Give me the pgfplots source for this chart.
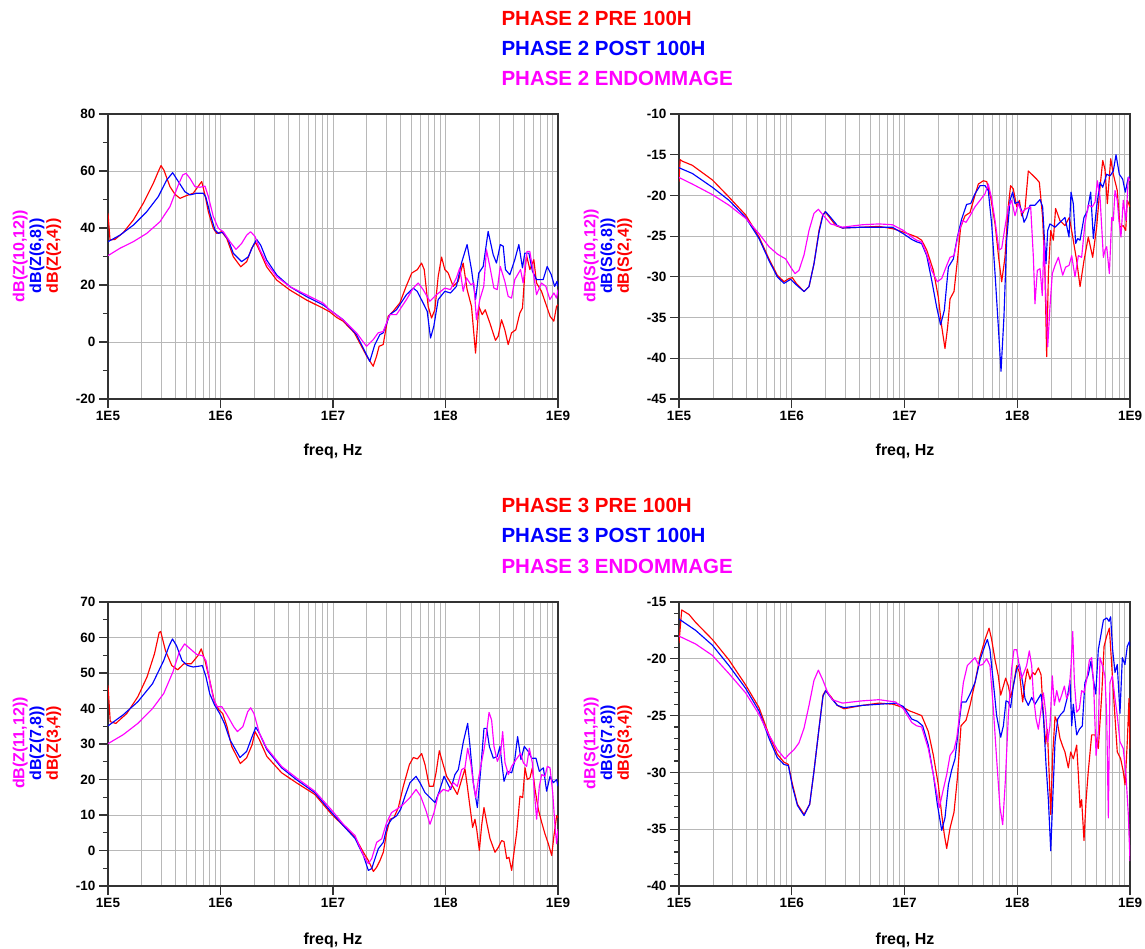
\documentclass[border=0pt]{standalone}
\usepackage{fontspec}
\setmainfont{Liberation Sans}
\usepackage{pgfplots}
\pgfplotsset{compat=1.18}

\definecolor{adsred}{RGB}{255,0,0}
\definecolor{adsblue}{RGB}{0,0,255}
\definecolor{adsmag}{RGB}{255,0,255}

\newcommand\tickf{\fontsize{13.5}{15}\selectfont\bfseries}
\newcommand\labf{\fontsize{16}{16.75}\selectfont\bfseries}
\newcommand\titf{\fontsize{20.5}{22}\selectfont\bfseries}

% x is log10(freq / Hz)
\pgfplotsset{
  adsaxis/.style={
    scale only axis, anchor=south west,
    xmin=5, xmax=9,
    xtick={5,6,7,8,9}, xticklabels={1E5,1E6,1E7,1E8,1E9},
    minor xtick={5.30103,5.47712,5.60206,5.69897,5.77815,5.84510,5.90309,5.95424,
                 6.30103,6.47712,6.60206,6.69897,6.77815,6.84510,6.90309,6.95424,
                 7.30103,7.47712,7.60206,7.69897,7.77815,7.84510,7.90309,7.95424,
                 8.30103,8.47712,8.60206,8.69897,8.77815,8.84510,8.90309,8.95424},
    xmajorgrids, xminorgrids, ymajorgrids,
    major grid style={black!28, line width=0.9pt},
    minor grid style={black!28, line width=0.9pt},
    minor tick length=0pt, major tick length=9pt, tick align=outside, tick pos=left,
    axis line style={black!80, line width=1.2pt},
    major tick style={black!80, line width=1.2pt},
    ticklabel style={font=\tickf},
    every axis plot/.append style={line width=1.15pt, line join=round, mark=none},
  },
  yminor/.style={
    scale only axis, anchor=south west, xmin=5, xmax=9,
    hide x axis, axis y line*=left, axis line style={draw=none},
    yticklabels={}, major tick length=5pt, tick align=outside,
    major tick style={black!80, line width=1.2pt},
  },
}

\begin{document}
\begin{tikzpicture}
\path[use as bounding box] (0,0) rectangle (1145pt,-949pt);

% ---------------- titles ----------------
\node[anchor=west, font=\titf, text=adsred]  at (498pt,-18pt) {PHASE 2 PRE 100H};
\node[anchor=west, font=\titf, text=adsblue] at (498pt,-48pt) {PHASE 2 POST 100H};
\node[anchor=west, font=\titf, text=adsmag]  at (498pt,-78pt) {PHASE 2 ENDOMMAGE};
\node[anchor=west, font=\titf, text=adsred]  at (498pt,-505pt) {PHASE 3 PRE 100H};
\node[anchor=west, font=\titf, text=adsblue] at (498pt,-535pt) {PHASE 3 POST 100H};
\node[anchor=west, font=\titf, text=adsmag]  at (498pt,-566pt) {PHASE 3 ENDOMMAGE};

% ---------------- top left: dB(Z) phase 2 ----------------
\begin{axis}[yminor, at={(108pt,-399pt)}, width=450pt, height=285pt,
  ymin=-20, ymax=80, ytick={-10,10,30,50,70}]
\end{axis}
\begin{axis}[adsaxis, at={(108pt,-399pt)}, width=450pt, height=285pt,
  ymin=-20, ymax=80, ytick={-20,0,20,40,60,80}, yticklabels={-20,0,20,40,60,80}]
\addplot[adsred] coordinates {
(5.000,45.1) (5.018,35.8) (5.062,36.0) (5.136,38.4) (5.225,42.8) (5.314,48.7) (5.403,55.7) (5.447,59.8)
(5.471,61.9) (5.497,60.3) (5.551,54.5) (5.596,51.8) (5.640,50.4) (5.693,51.3) (5.758,52.2) (5.803,54.7)
(5.833,56.3) (5.862,51.6) (5.892,45.7) (5.936,39.9) (5.966,38.1) (6.010,38.7) (6.055,36.4) (6.114,29.9)
(6.180,26.4) (6.233,28.2) (6.277,32.9) (6.313,34.9) (6.351,31.7) (6.410,26.4) (6.500,21.7) (6.618,18.2)
(6.766,14.7) (6.914,11.8) (6.970,10.6) (7.033,8.6) (7.090,7.3) (7.190,3.2) (7.300,-5.0) (7.357,-8.5)
(7.387,-5.0) (7.410,-1.5) (7.446,-0.9) (7.490,9.0) (7.535,10.8) (7.594,13.7) (7.650,19.5) (7.700,24.2)
(7.750,25.4) (7.787,27.7) (7.811,25.4) (7.846,12.5) (7.876,8.4) (7.905,11.3) (7.935,23.0) (7.965,29.8)
(7.994,25.4) (8.024,24.2) (8.068,19.5) (8.113,21.3) (8.157,27.7) (8.192,18.4) (8.231,12.5) (8.267,-3.9)
(8.296,12.5) (8.326,9.6) (8.353,11.3) (8.394,6.7) (8.444,0.6) (8.468,2.0) (8.498,7.8) (8.527,4.3)
(8.557,-0.9) (8.587,3.2) (8.625,4.3) (8.661,10.2) (8.684,11.9) (8.705,24.0) (8.720,30.5) (8.750,25.4)
(8.785,28.9) (8.809,20.7) (8.853,17.8) (8.930,9.0) (8.963,7.3) (8.987,12.5) (9.000,13.1)};
\addplot[adsblue] coordinates {
(5.000,35.2) (5.107,37.5) (5.225,41.0) (5.344,45.7) (5.447,51.0) (5.521,56.8) (5.575,59.4) (5.625,56.3)
(5.684,52.7) (5.729,51.6) (5.788,52.2) (5.847,52.2) (5.870,50.8) (5.907,45.1) (5.951,39.3) (5.981,38.1)
(6.019,38.5) (6.070,35.8) (6.114,31.1) (6.188,28.2) (6.247,29.9) (6.292,34.0) (6.321,36.0) (6.357,34.0)
(6.410,28.8) (6.500,23.5) (6.618,19.4) (6.766,15.9) (6.914,13.0) (6.970,11.3) (7.090,7.8) (7.209,2.6)
(7.283,-3.3) (7.327,-6.8) (7.372,-0.9) (7.417,2.6) (7.446,3.2) (7.505,9.6) (7.564,11.3) (7.653,16.6)
(7.713,18.9) (7.748,17.8) (7.801,13.7) (7.837,10.8) (7.867,1.4) (7.896,5.5) (7.935,14.9) (7.994,17.8)
(8.044,17.2) (8.097,19.5) (8.142,27.7) (8.192,34.2) (8.231,25.4) (8.267,14.9) (8.296,24.2) (8.335,26.5)
(8.379,38.8) (8.424,30.6) (8.453,27.7) (8.487,34.2) (8.513,33.6) (8.533,25.4) (8.572,23.6) (8.616,28.9)
(8.652,34.2) (8.684,26.0) (8.705,31.2) (8.741,31.2) (8.773,24.8) (8.809,21.9) (8.868,21.9) (8.904,26.5)
(8.940,23.6) (8.970,19.5) (8.991,21.3) (9.000,19.5)};
\addplot[adsmag] coordinates {
(5.000,30.3) (5.107,32.9) (5.225,35.2) (5.344,38.1) (5.462,42.2) (5.551,47.5) (5.625,55.1) (5.664,58.6)
(5.693,59.2) (5.729,57.4) (5.773,54.5) (5.818,54.3) (5.862,54.7) (5.892,51.0) (5.936,44.0) (5.981,39.9)
(6.025,38.7) (6.084,35.2) (6.138,32.5) (6.188,34.6) (6.233,37.5) (6.268,38.7) (6.307,37.0) (6.351,32.3)
(6.410,27.6) (6.500,22.9) (6.618,19.4) (6.766,16.5) (6.914,13.6) (6.970,11.3) (7.090,7.8) (7.209,3.2)
(7.298,-1.5) (7.357,0.8) (7.401,3.2) (7.446,3.7) (7.505,9.6) (7.564,9.6) (7.653,14.9) (7.713,18.9)
(7.757,20.7) (7.801,18.4) (7.861,14.3) (7.920,16.6) (7.994,18.9) (8.044,18.4) (8.097,22.5) (8.127,26.0)
(8.157,17.8) (8.187,22.5) (8.225,20.1) (8.252,20.7) (8.275,7.8) (8.305,14.9) (8.340,19.5) (8.364,32.4)
(8.394,26.5) (8.430,18.9) (8.460,18.4) (8.487,26.5) (8.527,21.3) (8.557,16.0) (8.587,15.4) (8.616,21.9)
(8.667,25.4) (8.690,20.7) (8.725,31.8) (8.749,31.8) (8.779,24.8) (8.809,16.6) (8.853,20.7) (8.892,19.5)
(8.928,14.9) (8.963,17.2) (8.987,15.4) (9.000,18.4)};
\end{axis}

% ---------------- top right: dB(S) phase 2 ----------------
\begin{axis}[adsaxis, at={(679pt,-399pt)}, width=451pt, height=285pt,
  ymin=-45, ymax=-10, ytick={-45,-40,...,-10}, yticklabels={-45,-40,-35,-30,-25,-20,-15,-10}]
\addplot[adsred] coordinates {
(5.000,-18.3) (5.010,-15.6) (5.030,-15.8) (5.118,-16.3) (5.296,-18.1) (5.443,-20.2) (5.591,-22.4) (5.710,-25.1)
(5.798,-27.8) (5.872,-29.8) (5.931,-30.6) (5.976,-30.2) (6.005,-30.1) (6.040,-30.8) (6.109,-31.8) (6.153,-31.2)
(6.197,-28.4) (6.242,-24.3) (6.271,-22.6) (6.295,-22.0) (6.330,-22.6) (6.390,-23.7) (6.449,-24.0) (6.626,-23.9)
(6.774,-23.8) (6.900,-24.1) (6.990,-24.5) (7.050,-24.8) (7.108,-25.1) (7.152,-25.5) (7.197,-26.7) (7.256,-29.2)
(7.300,-32.5) (7.330,-36.1) (7.359,-38.8) (7.383,-36.1) (7.404,-32.7) (7.439,-31.8) (7.469,-28.0) (7.498,-23.9)
(7.537,-22.5) (7.581,-22.1) (7.616,-20.4) (7.655,-18.6) (7.699,-18.2) (7.729,-18.3) (7.764,-20.2) (7.803,-23.5)
(7.838,-28.0) (7.862,-30.6) (7.891,-27.6) (7.920,-21.4) (7.941,-18.8) (7.965,-19.2) (7.995,-21.4) (8.019,-20.6)
(8.039,-22.5) (8.069,-21.6) (8.098,-17.0) (8.128,-17.4) (8.172,-18.0) (8.196,-18.4) (8.225,-22.7) (8.246,-29.6)
(8.261,-39.8) (8.276,-29.6) (8.297,-24.3) (8.320,-25.5) (8.340,-21.6) (8.379,-23.1) (8.423,-23.7) (8.462,-22.7)
(8.492,-25.1) (8.527,-28.0) (8.557,-31.2) (8.592,-28.0) (8.630,-25.1) (8.669,-27.6) (8.704,-23.9) (8.734,-19.0)
(8.758,-15.7) (8.778,-16.8) (8.799,-21.0) (8.829,-15.5) (8.852,-17.4) (8.887,-19.4) (8.911,-23.9) (8.940,-23.7)
(8.962,-24.3) (8.976,-20.6) (9.000,-21.4)};
\addplot[adsblue] coordinates {
(5.000,-16.6) (5.118,-17.3) (5.296,-19.0) (5.443,-20.6) (5.591,-22.7) (5.710,-25.3) (5.798,-28.0) (5.872,-30.0)
(5.931,-30.8) (5.990,-30.3) (6.050,-31.1) (6.109,-31.8) (6.153,-31.2) (6.197,-28.4) (6.242,-24.5) (6.277,-22.4)
(6.301,-22.0) (6.345,-22.7) (6.404,-23.7) (6.449,-24.0) (6.626,-23.9) (6.892,-23.9) (6.990,-24.7) (7.064,-25.4)
(7.108,-25.7) (7.152,-25.9) (7.197,-27.4) (7.241,-30.4) (7.285,-33.7) (7.320,-35.9) (7.353,-34.1) (7.389,-28.8)
(7.433,-27.8) (7.469,-25.1) (7.507,-22.9) (7.551,-21.1) (7.587,-21.0) (7.625,-19.8) (7.670,-18.8) (7.714,-18.8)
(7.743,-19.4) (7.773,-23.5) (7.803,-29.6) (7.832,-36.1) (7.856,-41.6) (7.882,-34.9) (7.906,-25.5) (7.936,-20.6)
(7.959,-19.6) (7.980,-21.0) (8.010,-20.8) (8.039,-21.9) (8.060,-23.3) (8.083,-22.7) (8.113,-21.2) (8.157,-21.2)
(8.202,-20.5) (8.225,-21.4) (8.240,-25.1) (8.255,-28.4) (8.270,-24.3) (8.290,-23.5) (8.335,-23.9) (8.379,-23.3)
(8.423,-22.7) (8.459,-25.1) (8.477,-19.6) (8.497,-21.0) (8.518,-25.9) (8.536,-25.3) (8.557,-25.5) (8.592,-22.7)
(8.622,-21.9) (8.651,-19.6) (8.675,-25.3) (8.704,-21.4) (8.734,-18.4) (8.758,-19.0) (8.793,-17.4) (8.823,-17.6)
(8.852,-17.0) (8.876,-15.0) (8.905,-17.4) (8.935,-18.0) (8.958,-19.6) (8.985,-17.8) (9.000,-17.7)};
\addplot[adsmag] coordinates {
(5.000,-17.8) (5.118,-18.6) (5.296,-19.9) (5.443,-21.2) (5.591,-22.8) (5.710,-24.7) (5.798,-26.3) (5.872,-27.2)
(5.946,-27.8) (5.990,-28.8) (6.029,-29.6) (6.064,-29.2) (6.109,-27.3) (6.153,-24.3) (6.197,-22.2) (6.236,-21.7)
(6.277,-22.4) (6.345,-23.5) (6.449,-23.9) (6.626,-23.6) (6.774,-23.5) (6.892,-23.6) (6.990,-24.3) (7.064,-25.1)
(7.108,-25.5) (7.152,-25.7) (7.197,-27.2) (7.241,-29.2) (7.291,-30.6) (7.330,-30.2) (7.374,-28.6) (7.404,-27.6)
(7.439,-27.4) (7.478,-24.7) (7.516,-23.1) (7.546,-23.3) (7.581,-22.5) (7.625,-21.4) (7.670,-20.6) (7.714,-19.8)
(7.743,-18.6) (7.773,-20.4) (7.803,-23.1) (7.838,-26.7) (7.862,-26.5) (7.891,-23.9) (7.921,-21.4) (7.950,-20.6)
(7.980,-22.5) (8.010,-21.0) (8.039,-22.1) (8.083,-21.6) (8.119,-21.4) (8.143,-27.6) (8.157,-33.3) (8.178,-29.2)
(8.202,-29.0) (8.222,-32.3) (8.237,-25.5) (8.252,-32.0) (8.270,-38.6) (8.290,-33.7) (8.311,-29.6) (8.335,-28.6)
(8.365,-27.6) (8.403,-29.8) (8.429,-28.8) (8.459,-28.6) (8.483,-27.4) (8.512,-30.0) (8.542,-27.4) (8.571,-27.6)
(8.600,-23.5) (8.630,-21.2) (8.666,-21.4) (8.690,-20.8) (8.711,-18.2) (8.734,-20.2) (8.764,-27.6) (8.778,-26.7)
(8.793,-26.3) (8.817,-29.6) (8.838,-22.7) (8.852,-23.1) (8.867,-19.4) (8.887,-20.6) (8.902,-23.1) (8.920,-25.1)
(8.940,-20.6) (8.964,-23.1) (8.985,-17.8) (9.000,-18.2)};
\end{axis}

% ---------------- bottom left: dB(Z) phase 3 ----------------
\begin{axis}[yminor, at={(108pt,-886pt)}, width=450pt, height=284pt,
  ymin=-10, ymax=70, ytick={-5,5,15,25,35,45,55,65}]
\end{axis}
\begin{axis}[adsaxis, at={(108pt,-886pt)}, width=450pt, height=284pt,
  ymin=-10, ymax=70, ytick={-10,0,...,70}, yticklabels={-10,0,10,20,30,40,50,60,70}]
\addplot[adsred] coordinates {
(5.000,46.5) (5.020,36.3) (5.069,35.8) (5.167,38.6) (5.265,43.3) (5.347,48.9) (5.413,55.4) (5.455,61.4)
(5.468,61.7) (5.511,56.3) (5.567,52.1) (5.619,50.9) (5.675,52.6) (5.740,52.6) (5.800,54.9) (5.829,56.8)
(5.862,53.5) (5.904,47.9) (5.947,41.9) (5.986,39.6) (6.019,38.6) (6.058,34.9) (6.100,29.3) (6.176,24.5)
(6.232,26.1) (6.281,29.8) (6.307,33.5) (6.346,31.2) (6.412,26.5) (6.543,21.9) (6.674,19.1) (6.838,15.8)
(6.985,10.3) (7.092,7.0) (7.196,3.7) (7.270,-0.5) (7.314,-2.8) (7.359,-5.9) (7.388,-4.7) (7.418,-2.8)
(7.447,-0.5) (7.477,5.1) (7.507,8.8) (7.542,9.3) (7.581,12.1) (7.625,18.1) (7.679,24.2) (7.714,26.2)
(7.750,25.8) (7.788,27.3) (7.818,24.2) (7.856,18.1) (7.892,18.1) (7.916,21.9) (7.945,28.1) (7.975,24.7)
(8.010,20.9) (8.055,18.6) (8.105,15.8) (8.144,20.0) (8.173,23.0) (8.194,18.1) (8.224,10.7) (8.241,6.5)
(8.262,8.8) (8.277,6.0) (8.301,0.0) (8.321,7.0) (8.342,12.1) (8.366,7.9) (8.396,3.3) (8.440,-0.5)
(8.470,0.9) (8.499,2.8) (8.520,2.5) (8.544,-2.3) (8.564,-1.9) (8.588,-5.6) (8.609,-0.5) (8.633,5.1)
(8.662,15.3) (8.686,14.9) (8.707,23.3) (8.727,20.0) (8.751,20.5) (8.772,23.3) (8.796,17.2) (8.825,11.6)
(8.855,7.9) (8.884,4.7) (8.914,1.9) (8.944,-1.4) (8.964,4.2) (8.988,9.8) (9.000,9.3)};
\addplot[adsblue] coordinates {
(5.000,35.1) (5.134,38.2) (5.265,41.9) (5.396,47.0) (5.495,53.5) (5.544,57.7) (5.573,59.6) (5.609,57.7)
(5.658,53.5) (5.708,52.1) (5.757,51.7) (5.806,51.9) (5.839,52.1) (5.871,48.9) (5.904,44.2) (5.947,41.0)
(5.993,38.6) (6.035,35.8) (6.084,31.2) (6.173,26.2) (6.232,27.9) (6.281,32.1) (6.314,34.7) (6.346,33.0)
(6.412,28.4) (6.543,23.3) (6.674,20.0) (6.838,16.3) (6.985,10.8) (7.092,7.0) (7.196,3.4) (7.270,-1.4)
(7.314,-5.6) (7.344,-5.1) (7.373,-2.3) (7.403,0.5) (7.447,2.3) (7.483,7.0) (7.521,8.8) (7.566,9.8)
(7.601,11.6) (7.640,15.3) (7.684,19.1) (7.738,20.9) (7.773,19.1) (7.818,16.3) (7.862,14.9) (7.907,13.5)
(7.945,16.7) (7.987,20.9) (8.016,19.1) (8.046,17.2) (8.084,21.4) (8.114,22.8) (8.159,30.7) (8.197,35.8)
(8.218,29.3) (8.247,19.1) (8.283,12.1) (8.313,22.8) (8.342,34.4) (8.366,34.4) (8.390,29.3) (8.425,26.0)
(8.460,26.5) (8.484,29.3) (8.499,25.1) (8.520,19.5) (8.550,22.3) (8.588,21.9) (8.612,24.7) (8.641,32.1)
(8.671,25.6) (8.700,29.3) (8.736,27.9) (8.766,26.0) (8.804,26.0) (8.834,22.3) (8.870,23.3) (8.899,16.7)
(8.929,20.9) (8.958,19.1) (8.988,20.0) (9.000,18.1)};
\addplot[adsmag] coordinates {
(5.000,30.1) (5.134,32.6) (5.265,35.8) (5.396,40.0) (5.495,44.2) (5.577,50.3) (5.632,55.8) (5.681,58.2)
(5.731,56.8) (5.790,55.2) (5.839,54.9) (5.871,53.5) (5.904,47.9) (5.937,42.8) (5.970,40.5) (6.012,40.5)
(6.058,38.2) (6.117,34.9) (6.150,33.5) (6.199,34.9) (6.242,39.1) (6.268,40.2) (6.297,38.6) (6.346,33.0)
(6.412,28.8) (6.543,23.7) (6.674,20.5) (6.838,16.7) (6.985,11.5) (7.092,7.4) (7.196,4.2) (7.270,-1.4)
(7.314,-3.7) (7.344,-2.3) (7.388,2.3) (7.433,3.3) (7.477,7.9) (7.521,10.7) (7.566,11.6) (7.625,13.0)
(7.684,14.9) (7.738,17.2) (7.779,15.3) (7.827,11.2) (7.862,7.4) (7.898,10.7) (7.936,15.8) (7.981,17.2)
(8.025,16.7) (8.070,19.1) (8.105,18.1) (8.144,22.8) (8.173,23.3) (8.197,28.8) (8.224,24.7) (8.247,19.1)
(8.268,14.9) (8.292,20.0) (8.313,23.7) (8.342,28.4) (8.366,33.5) (8.387,38.9) (8.410,36.7) (8.431,29.3)
(8.461,25.1) (8.490,27.4) (8.508,33.5) (8.529,24.7) (8.559,21.4) (8.588,23.7) (8.627,25.6) (8.668,27.4)
(8.692,24.7) (8.721,23.7) (8.745,28.8) (8.772,24.7) (8.790,16.3) (8.810,8.8) (8.834,18.1) (8.855,21.4)
(8.884,20.9) (8.905,23.7) (8.929,23.3) (8.953,16.3) (8.973,7.0) (8.988,1.9) (9.000,6.0)};
\end{axis}

% ---------------- bottom right: dB(S) phase 3 ----------------
\begin{axis}[yminor, at={(679pt,-886pt)}, width=451pt, height=284pt,
  ymin=-40, ymax=-15, ytick={-39,-38,-37,-36,-34,-33,-32,-31,-29,-28,-27,-26,-24,-23,-22,-21,-19,-18,-17,-16}]
\end{axis}
\begin{axis}[adsaxis, at={(679pt,-886pt)}, width=451pt, height=284pt,
  ymin=-40, ymax=-15, ytick={-40,-35,...,-15}, yticklabels={-40,-35,-30,-25,-20,-15}]
\addplot[adsred] coordinates {
(5.000,-18.6) (5.024,-15.7) (5.089,-16.1) (5.148,-16.8) (5.296,-18.3) (5.443,-20.1) (5.591,-22.3) (5.710,-24.3)
(5.798,-26.7) (5.872,-28.4) (5.931,-29.1) (5.970,-29.3) (6.005,-31.0) (6.050,-32.8) (6.109,-33.7) (6.159,-32.8)
(6.197,-29.9) (6.242,-26.1) (6.277,-23.2) (6.300,-22.8) (6.345,-23.3) (6.404,-24.1) (6.463,-24.4) (6.626,-24.1)
(6.774,-23.9) (6.900,-24.0) (6.990,-24.3) (7.049,-24.6) (7.102,-24.8) (7.152,-25.0) (7.211,-26.4) (7.256,-28.5)
(7.300,-31.1) (7.330,-33.7) (7.352,-35.4) (7.374,-36.7) (7.404,-34.9) (7.439,-33.5) (7.469,-30.5) (7.501,-25.9)
(7.546,-25.4) (7.581,-24.1) (7.625,-22.1) (7.670,-19.8) (7.714,-18.3) (7.750,-17.3) (7.773,-18.3) (7.803,-20.1)
(7.832,-21.5) (7.853,-23.2) (7.877,-22.4) (7.897,-21.7) (7.921,-22.4) (7.941,-23.4) (7.965,-22.4) (7.995,-20.6)
(8.019,-21.2) (8.048,-23.8) (8.069,-22.1) (8.089,-20.9) (8.113,-21.8) (8.137,-21.2) (8.157,-21.4) (8.187,-20.8)
(8.211,-21.4) (8.232,-25.0) (8.252,-27.5) (8.267,-26.2) (8.282,-29.9) (8.297,-33.7) (8.314,-28.5) (8.335,-25.1)
(8.356,-25.6) (8.379,-27.0) (8.403,-27.7) (8.423,-28.2) (8.453,-29.6) (8.474,-28.2) (8.497,-28.8) (8.527,-27.6)
(8.542,-30.2) (8.557,-33.1) (8.571,-32.4) (8.592,-36.0) (8.610,-32.5) (8.630,-29.9) (8.660,-26.7) (8.690,-26.7)
(8.719,-27.9) (8.749,-23.2) (8.770,-18.9) (8.793,-18.0) (8.817,-17.3) (8.838,-20.6) (8.858,-23.8) (8.887,-28.2)
(8.917,-28.8) (8.940,-29.9) (8.956,-31.1) (8.976,-27.3) (8.991,-23.5) (9.000,-27.9)};
\addplot[adsblue] coordinates {
(5.000,-16.5) (5.148,-17.5) (5.296,-18.8) (5.443,-20.6) (5.591,-22.6) (5.710,-24.6) (5.798,-27.0) (5.872,-28.7)
(5.931,-29.3) (5.970,-29.4) (6.005,-31.2) (6.050,-32.9) (6.109,-33.8) (6.159,-32.8) (6.197,-29.9) (6.242,-26.1)
(6.277,-23.3) (6.301,-22.8) (6.345,-23.4) (6.404,-24.1) (6.463,-24.3) (6.626,-24.1) (6.774,-24.0) (6.922,-23.9)
(6.990,-24.2) (7.064,-25.3) (7.114,-25.5) (7.161,-25.9) (7.211,-27.6) (7.256,-30.2) (7.291,-32.8) (7.330,-35.1)
(7.359,-34.0) (7.389,-31.1) (7.418,-29.8) (7.448,-28.8) (7.478,-26.2) (7.507,-23.8) (7.546,-23.8) (7.581,-23.1)
(7.625,-22.1) (7.670,-20.1) (7.714,-18.8) (7.735,-18.3) (7.758,-19.2) (7.788,-22.1) (7.817,-25.0) (7.853,-26.9)
(7.877,-25.9) (7.900,-23.7) (7.921,-23.8) (7.941,-24.3) (7.965,-22.4) (7.995,-20.9) (8.019,-20.5) (8.048,-22.1)
(8.069,-23.5) (8.098,-24.1) (8.128,-23.4) (8.157,-24.0) (8.187,-23.5) (8.211,-23.1) (8.232,-25.0) (8.255,-29.3)
(8.276,-32.4) (8.297,-36.9) (8.314,-32.5) (8.335,-27.3) (8.359,-25.3) (8.385,-24.9) (8.414,-24.6) (8.444,-23.4)
(8.468,-21.9) (8.483,-25.9) (8.497,-24.0) (8.527,-26.7) (8.551,-26.2) (8.577,-25.9) (8.600,-22.1) (8.630,-21.4)
(8.654,-20.2) (8.675,-21.8) (8.696,-23.1) (8.719,-19.2) (8.740,-18.0) (8.764,-16.6) (8.793,-16.4) (8.814,-16.7)
(8.828,-16.3) (8.846,-19.2) (8.867,-21.2) (8.887,-20.5) (8.911,-24.8) (8.932,-19.9) (8.955,-20.5) (8.976,-18.9)
(8.994,-18.5) (9.000,-18.9)};
\addplot[adsmag] coordinates {
(5.000,-18.0) (5.148,-18.7) (5.296,-19.7) (5.443,-21.3) (5.591,-23.0) (5.710,-24.9) (5.798,-26.7) (5.872,-28.0)
(5.940,-28.8) (5.976,-28.4) (6.020,-28.0) (6.064,-27.4) (6.109,-26.1) (6.153,-24.1) (6.197,-21.9) (6.236,-21.0)
(6.277,-21.9) (6.316,-22.9) (6.360,-23.6) (6.449,-23.9) (6.626,-23.7) (6.774,-23.6) (6.922,-23.8) (6.990,-24.4)
(7.064,-25.6) (7.108,-25.9) (7.152,-26.0) (7.211,-27.9) (7.256,-30.2) (7.309,-33.1) (7.344,-31.5) (7.374,-30.2)
(7.404,-28.5) (7.439,-28.0) (7.463,-27.0) (7.492,-24.7) (7.522,-22.1) (7.557,-20.6) (7.596,-20.2) (7.625,-19.9)
(7.660,-20.6) (7.693,-20.5) (7.729,-20.0) (7.758,-20.6) (7.788,-24.4) (7.817,-28.8) (7.847,-33.1) (7.871,-34.6)
(7.894,-30.8) (7.921,-25.0) (7.950,-20.9) (7.971,-19.2) (7.995,-19.2) (8.018,-20.6) (8.039,-21.7) (8.060,-21.2)
(8.083,-20.6) (8.107,-19.3) (8.128,-20.6) (8.143,-23.2) (8.167,-25.3) (8.187,-26.2) (8.208,-24.7) (8.232,-23.0)
(8.252,-24.7) (8.270,-27.3) (8.290,-25.9) (8.311,-21.5) (8.329,-24.1) (8.350,-22.8) (8.373,-23.8) (8.394,-23.2)
(8.418,-22.4) (8.438,-23.5) (8.459,-23.0) (8.477,-20.6) (8.492,-17.6) (8.507,-22.1) (8.527,-24.7) (8.551,-24.4)
(8.571,-22.8) (8.592,-23.0) (8.616,-21.8) (8.640,-20.1) (8.660,-19.9) (8.678,-22.4) (8.699,-28.5) (8.719,-26.4)
(8.734,-19.9) (8.755,-20.6) (8.778,-21.5) (8.793,-25.0) (8.808,-34.0) (8.822,-22.1) (8.843,-21.5) (8.867,-23.5)
(8.887,-25.0) (8.911,-27.3) (8.940,-27.9) (8.964,-30.2) (8.985,-33.7) (9.000,-37.8)};
\end{axis}

% ---------------- axis titles ----------------
\node[font=\labf] at (333pt,-451pt) {freq, Hz};
\node[font=\labf] at (905pt,-451pt) {freq, Hz};
\node[font=\labf] at (333pt,-940pt) {freq, Hz};
\node[font=\labf] at (905pt,-940pt) {freq, Hz};

\node[rotate=90, align=center, font=\labf] at (37pt,-256pt)
  {\textcolor{adsmag}{dB(Z(10,12))}\\\textcolor{adsblue}{dB(Z(6,8))}\\\textcolor{adsred}{dB(Z(2,4))}};
\node[rotate=90, align=center, font=\labf] at (608pt,-256pt)
  {\textcolor{adsmag}{dB(S(10,12))}\\\textcolor{adsblue}{dB(S(6,8))}\\\textcolor{adsred}{dB(S(2,4))}};
\node[rotate=90, align=center, font=\labf] at (37pt,-743pt)
  {\textcolor{adsmag}{dB(Z(11,12))}\\\textcolor{adsblue}{dB(Z(7,8))}\\\textcolor{adsred}{dB(Z(3,4))}};
\node[rotate=90, align=center, font=\labf] at (608pt,-743pt)
  {\textcolor{adsmag}{dB(S(11,12))}\\\textcolor{adsblue}{dB(S(7,8))}\\\textcolor{adsred}{dB(S(3,4))}};
\end{tikzpicture}
\end{document}
